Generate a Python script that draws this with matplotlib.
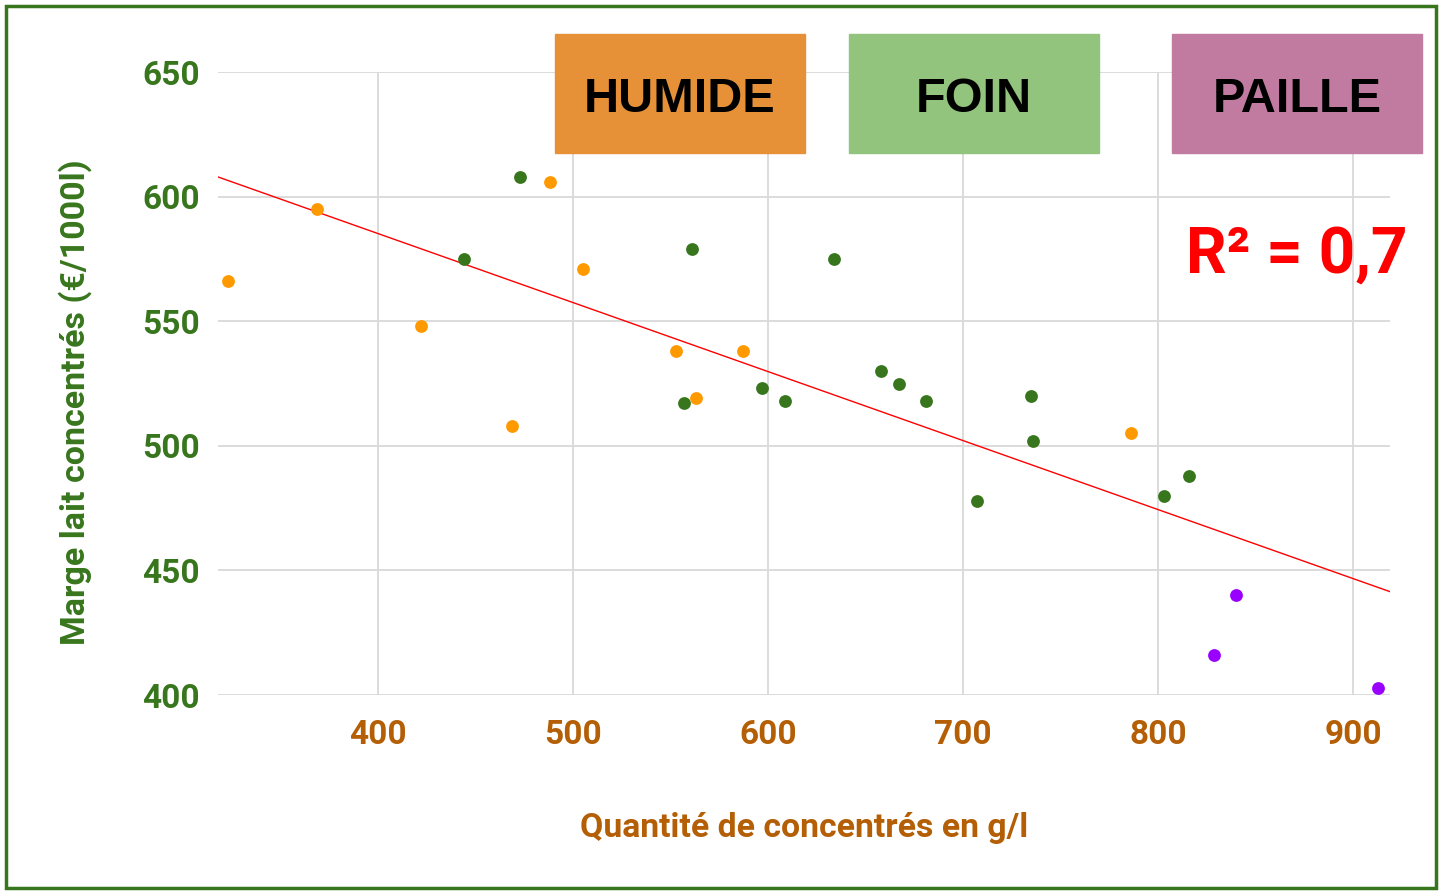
import numpy as np
import matplotlib.pyplot as plt
from matplotlib.patches import Rectangle

# HUMIDE (orange)
humide_x = [323, 369, 422, 469, 488, 505, 553, 563, 587, 786]
humide_y = [566, 595, 548, 508, 606, 571, 538, 519, 538, 505]
# FOIN (green)
foin_x = [444, 473, 557, 561, 597, 609, 634, 658, 667, 681, 707, 735, 736, 803, 816]
foin_y = [575, 608, 517, 579, 523, 518, 575, 530, 525, 518, 478, 520, 502, 480, 488]
# PAILLE (purple)
paille_x = [829, 840, 913]
paille_y = [416, 440, 403]

x_ticks = [400, 500, 600, 700, 800, 900]
y_ticks = [400, 450, 500, 550, 600, 650]

green = '#38761d'
brown = '#b45f06'

fig = plt.figure(figsize=(14.41, 8.92), dpi=100)
ax = fig.add_axes([218 / 1441, 1 - 695 / 892, (1390 - 218) / 1441, (695 - 72) / 892])

ax.scatter(humide_x, humide_y, s=85, color='#ff9900', zorder=3, linewidths=0)
ax.scatter(foin_x, foin_y, s=85, color=green, zorder=3, linewidths=0)
ax.scatter(paille_x, paille_y, s=85, color='#9900ff', zorder=3, linewidths=0)

# tendance sur tous les points
all_x = np.array(humide_x + foin_x + paille_x)
all_y = np.array(humide_y + foin_y + paille_y)
a, b = np.polyfit(all_x, all_y, 1)
xl = np.array([318, 919])
ax.plot(xl, a * xl + b, color='#ff0000', linewidth=1.0, zorder=2)

ax.set_xlim(318, 919)
ax.set_ylim(400, 650)
ax.set_xticks(x_ticks)
ax.set_yticks(y_ticks)
ax.grid(True, color='#d9d9d9', linewidth=1.3, zorder=0)
ax.set_axisbelow(True)
for s in ax.spines.values():
    s.set_visible(False)
ax.tick_params(length=0)
ax.tick_params(axis='y', pad=13, labelsize=24, labelcolor=green)
ax.tick_params(axis='x', pad=17, labelsize=24, labelcolor=brown)
for lab in ax.get_xticklabels() + ax.get_yticklabels():
    lab.set_fontfamily('Roboto')
    lab.set_fontweight('bold')

ax.set_xlabel("Quantité de concentrés en g/l", fontsize=24.3, color=brown,
              fontfamily='Roboto', fontweight='bold', labelpad=44)
ax.set_ylabel("Marge lait concentrés (€/1000l)", fontsize=24.5, color=green,
              fontfamily='Roboto', fontweight='bold', labelpad=36)
ax.yaxis.label.set_y(0.47)

# cadres des groupes
boxes = [("HUMIDE", 555, '#e69138'), ("FOIN", 849, '#93c47d'), ("PAILLE", 1172, '#c27ba0')]
for name, x0, col in boxes:
    fig.patches.append(Rectangle((x0 / 1441, 1 - 153 / 892), 250 / 1441, 119 / 892,
                                 transform=fig.transFigure, color=col, zorder=5))
    fig.text((x0 + 125) / 1441, 1 - 112 / 892, name, fontsize=35, fontweight='bold',
             fontfamily='Liberation Sans', ha='center', va='baseline', zorder=6)

fig.text(1408 / 1441, 1 - 273 / 892, "R² = 0,7", fontsize=46, fontweight='bold',
         fontfamily='Roboto', color='#ff0000', ha='right', va='baseline')

# bordure verte
fig.patches.append(Rectangle((5.5 / 1441, 4 / 892), 1430 / 1441, 882 / 892,
                             transform=fig.transFigure, fill=False,
                             edgecolor=green, linewidth=2.5, zorder=10))

fig.savefig('out.png', dpi=100)
